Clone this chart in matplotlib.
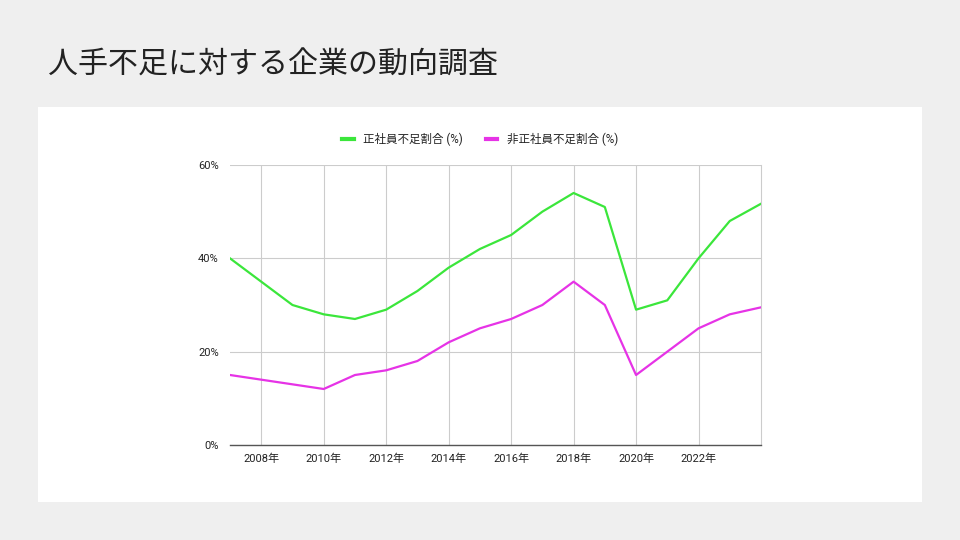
import matplotlib
matplotlib.use("Agg")
import matplotlib.pyplot as plt
from matplotlib.patches import Rectangle
from matplotlib.ticker import FuncFormatter, MultipleLocator

plt.rcParams['font.family'] = ['Roboto', 'Noto Sans CJK JP', 'DejaVu Sans']

title = "人手不足に対する企業の動向調査"
years = list(range(2007, 2025))
seishain = [40, 35, 30, 28, 27, 29, 33, 38, 42, 45, 50, 54, 51, 29, 31, 40, 48, 51.7]
hiseishain = [15, 14, 13, 12, 15, 16, 18, 22, 25, 27, 30, 35, 30, 15, 20, 25, 28, 29.5]
series_names = ["正社員不足割合 (%)", "非正社員不足割合 (%)"]
tick_years = [2008, 2010, 2012, 2014, 2016, 2018, 2020, 2022]
tick_labels = [f"{y}年" for y in tick_years]

fig = plt.figure(figsize=(9.6, 5.4), dpi=100)
fig.patch.set_facecolor('#efefef')

# white panel
panel = Rectangle((38/960, 1-502/540), (922-38)/960, (502-107)/540,
                  transform=fig.transFigure, facecolor='white',
                  edgecolor='none', zorder=-10)
fig.patches.append(panel)

fig.text(48/960, 1-66/540, title, fontsize=21.6, color='#222222',
         ha='left', va='center')

ax = fig.add_axes([230/960, 1-445/540, (761-230)/960, (445-165)/540])
ax.set_facecolor('white')

l1, = ax.plot(years, seishain, color='#3be63b', lw=1.6, label=series_names[0])
l2, = ax.plot(years, hiseishain, color='#e633e6', lw=1.6, label=series_names[1])

ax.set_xlim(2007, 2024)
ax.set_ylim(0, 60)
ax.yaxis.set_major_locator(MultipleLocator(20))
ax.yaxis.set_major_formatter(FuncFormatter(lambda v, p: f"{int(v)}%"))
ax.set_xticks(tick_years)
ax.set_xticklabels(tick_labels)
ax.grid(True, color='#cccccc', lw=0.8)
ax.set_axisbelow(True)
for s in ['left', 'top']:
    ax.spines[s].set_visible(False)
ax.spines['right'].set_color('#cccccc')
ax.spines['right'].set_linewidth(0.8)
ax.spines['bottom'].set_color('#555555')
ax.spines['bottom'].set_linewidth(1.0)
ax.tick_params(length=0, labelsize=8, colors='#222222', pad=6)
ax.tick_params(axis='y', pad=8)

leg = fig.legend(handles=[l1, l2], loc='center', bbox_to_anchor=(480/960, 1-139/540),
                 ncol=2, frameon=False, fontsize=8.3, handlelength=1.0,
                 handletextpad=0.8, columnspacing=2.0, labelcolor='#222222')
for h in leg.get_lines():
    h.set_linewidth(3)

fig.savefig("out.png", dpi=100, facecolor=fig.get_facecolor())
